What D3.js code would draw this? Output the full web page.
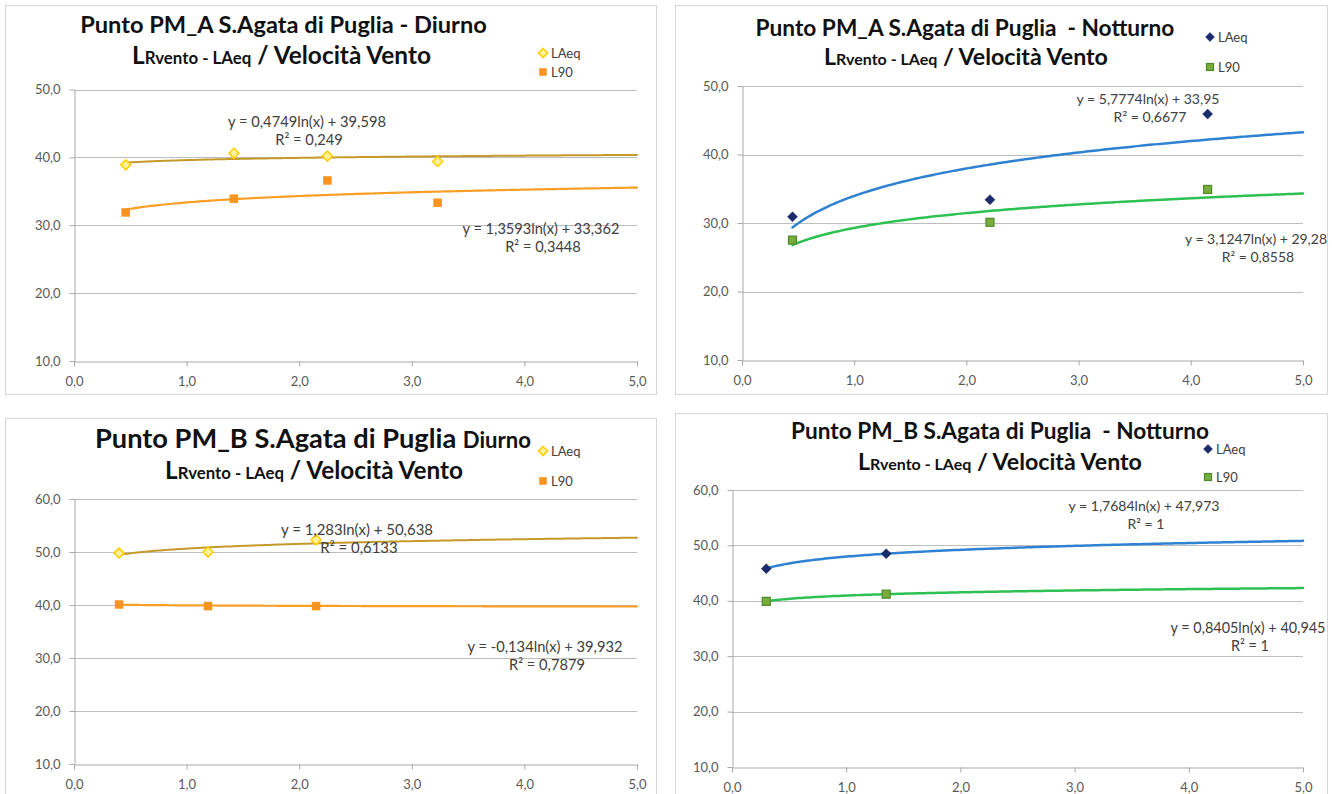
<!DOCTYPE html>
<html>
<head>
<meta charset="utf-8">
<script src="https://cdn.jsdelivr.net/npm/d3@7"></script>
<style>
  body { margin: 0; background: #fff; }
  svg { display: block; }
  text { font-family: Lato, "Open Sans", sans-serif; white-space: pre; }
</style>
</head>
<body>
<svg id="chart" width="1332" height="794"></svg>
<script>
// ---- Data: wind speed (m/s) vs. measured levels dB(A) ----
const xTickValues = [0, 1, 2, 3, 4, 5];
const yTicksTo50 = [10, 20, 30, 40, 50];
const yTicksTo60 = [10, 20, 30, 40, 50, 60];
const seriesNames = ["LAeq", "L90"];

// PM_A daytime
const pmaDayWind = [0.46, 1.42, 2.25, 3.23];
const pmaDayLAeq = [38.9, 40.6, 40.2, 39.4];
const pmaDayL90 = [31.9, 33.9, 36.6, 33.3];
const pmaDayTrend = [[0.4749, 39.598, 0.249], [1.3593, 33.362, 0.3448]];

// PM_A night-time
const pmaNightWind = [0.45, 2.21, 4.15];
const pmaNightLAeq = [30.9, 33.4, 45.9];
const pmaNightL90 = [27.5, 30.1, 34.9];
const pmaNightTrend = [[5.7774, 33.95, 0.6677], [3.1247, 29.28, 0.8558]];

// PM_B daytime
const pmbDayWind = [0.40, 1.19, 2.15];
const pmbDayLAeq = [49.8, 50.0, 52.3];
const pmbDayL90 = [40.1, 39.8, 39.8];
const pmbDayTrend = [[1.283, 50.638, 0.6133], [-0.134, 39.932, 0.7879]];

// PM_B night-time
const pmbNightWind = [0.30, 1.35];
const pmbNightLAeq = [45.8, 48.5];
const pmbNightL90 = [39.9, 41.2];
const pmbNightTrend = [[1.7684, 47.973, 1], [0.8405, 40.945, 1]];

// ---- Helpers ----
const svg = d3.select("#chart");
const itNum = v => String(v).replace(".", ",");
const tickFmt = d3.formatLocale({ decimal: ",", thousands: ".", grouping: [3], currency: ["", "€"] }).format(".1f");

function diamondPath(r) {
  return `M0,${-r}L${r},0L0,${r}L${-r},0Z`;
}

// scale all tspans of a text so that its total advance equals the wanted width
function fitWidth(textSel, width) {
  const w = textSel.node().getComputedTextLength();
  const k = width / w;
  textSel.selectAll("tspan").each(function () {
    const fs = +this.getAttribute("font-size");
    this.setAttribute("font-size", (fs * k).toFixed(2));
  });
}

const styles = {
  day: {
    laeq: { shape: "diamond", fill: "#FFF0A0", stroke: "#FFD000", sw: 1.6, r: 5 },
    l90: { shape: "square", fill: "#F7941E", stroke: "#F7941E", sw: 0.5, s: 8 },
    trendA: { color: "#C49A2C", width: 2 },
    trendB: { color: "#F99F25", width: 2.2 }
  },
  night: {
    laeq: { shape: "diamond", fill: "#1B2A6B", stroke: "#1B2A6B", sw: 0.5, r: 5 },
    l90: { shape: "square", fill: "#78AC3C", stroke: "#4E8A2A", sw: 1.2, s: 8 },
    trendA: { color: "#2F82D2", width: 2.5 },
    trendB: { color: "#2EC052", width: 2.5 }
  }
};

function drawPanel(cfg) {
  const g = svg.append("g");
  const st = styles[cfg.kind];

  g.append("rect")
    .attr("x", cfg.frame[0] + 0.5).attr("y", cfg.frame[1] + 0.5)
    .attr("width", cfg.frame[2] - cfg.frame[0]).attr("height", cfg.frame[3] - cfg.frame[1])
    .attr("fill", "#fff").attr("stroke", "#D6D6D6").attr("stroke-width", 1);

  const x = d3.scaleLinear().domain([0, 5]).range([cfg.x0, cfg.x1]);
  const y = d3.scaleLinear().domain([10, d3.max(cfg.yTicks)]).range([cfg.yBottom, cfg.yTop]);

  // horizontal gridlines
  g.append("g").selectAll("line")
    .data(cfg.yTicks.filter(t => t > 10))
    .join("line")
    .attr("x1", cfg.x0).attr("x2", cfg.x1)
    .attr("y1", d => Math.round(y(d)) + 0.5).attr("y2", d => Math.round(y(d)) + 0.5)
    .attr("stroke", "#BDBDBD").attr("stroke-width", 1);

  // axes
  const yAxis = d3.axisLeft(y).tickValues(cfg.yTicks).tickFormat(tickFmt)
    .tickSize(5).tickSizeOuter(0).tickPadding(9);
  const xAxis = d3.axisBottom(x).tickValues(xTickValues).tickFormat(tickFmt)
    .tickSize(5).tickSizeOuter(0).tickPadding(10);

  const ya = g.append("g").attr("transform", `translate(${Math.round(cfg.x0) + 0.5},0)`).call(yAxis);
  const xa = g.append("g").attr("transform", `translate(0,${Math.round(cfg.yBottom) + 0.5})`).call(xAxis);
  [ya, xa].forEach(a => {
    a.select(".domain").attr("stroke", "#A8A8A8");
    a.selectAll(".tick line").attr("stroke", "#A8A8A8");
    a.selectAll(".tick text").attr("fill", "#595959").attr("font-size", 13)
      .attr("font-family", "Lato, 'Open Sans', sans-serif");
  });

  // logarithmic trend lines y = a ln(x) + b, from the first measured speed to the end of the axis
  const trendStyles = [st.trendA, st.trendB];
  cfg.trend.forEach((t, i) => {
    const xs = d3.range(0, 201).map(k => d3.min(cfg.wind) + (5 - d3.min(cfg.wind)) * k / 200);
    const line = d3.line().x(v => x(v)).y(v => y(t[0] * Math.log(v) + t[1])).curve(d3.curveLinear);
    g.append("path").datum(xs).attr("d", line)
      .attr("fill", "none").attr("stroke", trendStyles[i].color)
      .attr("stroke-width", trendStyles[i].width).attr("stroke-linecap", "round");
  });

  // markers
  const drawMarker = (sel, m) => {
    if (m.shape === "diamond") {
      sel.append("path").attr("d", diamondPath(m.r));
    } else {
      sel.append("rect").attr("x", -m.s / 2).attr("y", -m.s / 2).attr("width", m.s).attr("height", m.s);
    }
    sel.selectAll("path,rect").attr("fill", m.fill).attr("stroke", m.stroke).attr("stroke-width", m.sw);
  };
  const sets = [[cfg.laeq, st.laeq], [cfg.l90, st.l90]];
  sets.forEach(([vals, m]) => {
    g.append("g").selectAll("g")
      .data(vals.map((v, i) => [cfg.wind[i], v]))
      .join("g")
      .attr("transform", d => `translate(${x(d[0])},${y(d[1])})`)
      .each(function () { drawMarker(d3.select(this), m); });
  });

  // legend
  [st.laeq, st.l90].forEach((m, i) => {
    const p = cfg.legend[i];
    const lg = g.append("g").attr("transform", `translate(${p[0]},${p[1]})`);
    drawMarker(lg, m.shape === "diamond" ? Object.assign({}, m, { r: 4.5 }) : Object.assign({}, m, { s: 7 }));
    lg.append("text").attr("x", 8).attr("y", 4.5).attr("font-size", 13).attr("fill", "#404040")
      .text(seriesNames[i]);
  });

  // trend equations
  cfg.trend.forEach((t, i) => {
    const p = cfg.eq[i];
    const eq = `y = ${itNum(t[0])}ln(x) + ${itNum(t[1])}`;
    const tx = g.append("text").attr("x", p[0]).attr("y", p[1]).attr("text-anchor", "middle")
      .attr("fill", "#404040");
    tx.append("tspan").attr("font-size", 13).text(eq);
    fitWidth(tx, p[2]);
    const fs = tx.select("tspan").attr("font-size");
    g.append("text").attr("x", p[0] + 2).attr("y", p[1] + 17.5).attr("text-anchor", "middle")
      .attr("fill", "#404040").attr("font-size", fs).text(`R² = ${itNum(t[2])}`);
  });

  // titles
  const t1 = g.append("text").attr("x", cfg.title1[0]).attr("y", cfg.title1[1])
    .attr("text-anchor", "middle").attr("font-weight", "bold").attr("fill", "#111");
  cfg.title1Parts.forEach(pt => t1.append("tspan").attr("font-size", pt[1]).text(pt[0]));
  fitWidth(t1, cfg.title1[2]);

  const t2 = g.append("text").attr("x", cfg.title2[0]).attr("y", cfg.title2[1])
    .attr("text-anchor", "middle").attr("font-weight", "bold").attr("fill", "#111");
  [["L", 21], ["Rvento - LAeq", 14.5], [" / Velocità Vento", 21]]
    .forEach(pt => t2.append("tspan").attr("font-size", pt[1]).text(pt[0]));
  fitWidth(t2, cfg.title2[2]);
}

drawPanel({
  kind: "day", frame: [5, 5, 656, 394],
  x0: 74, x1: 637, yTop: 89.5, yBottom: 361, yTicks: yTicksTo50,
  wind: pmaDayWind, laeq: pmaDayLAeq, l90: pmaDayL90, trend: pmaDayTrend,
  title1: [283.5, 33, 407], title1Parts: [["Punto PM_A S.Agata di Puglia - Diurno", 21]],
  title2: [281.5, 64, 299],
  legend: [[543, 53], [543, 72]],
  eq: [[307, 127, 158], [541, 234, 157]]
});

drawPanel({
  kind: "night", frame: [675, 5, 1327, 394],
  x0: 742, x1: 1303, yTop: 86, yBottom: 360, yTicks: yTicksTo50,
  wind: pmaNightWind, laeq: pmaNightLAeq, l90: pmaNightL90, trend: pmaNightTrend,
  title1: [965, 36, 419], title1Parts: [["Punto PM_A S.Agata di Puglia  - Notturno", 21]],
  title2: [966, 65, 284],
  legend: [[1210, 37], [1210, 67]],
  eq: [[1148, 104, 143], [1256, 244, 142]]
});

drawPanel({
  kind: "day", frame: [5, 418, 656, 800],
  x0: 74, x1: 637, yTop: 499, yBottom: 764, yTicks: yTicksTo60,
  wind: pmbDayWind, laeq: pmbDayLAeq, l90: pmbDayL90, trend: pmbDayTrend,
  title1: [313, 448, 436], title1Parts: [["Punto PM_B S.Agata di Puglia ", 24], ["Diurno", 19.5]],
  title2: [314, 479, 298],
  legend: [[543, 451], [543, 481]],
  eq: [[357, 535, 152], [545, 652, 155]]
});

drawPanel({
  kind: "night", frame: [675, 413, 1327, 800],
  x0: 732, x1: 1303, yTop: 490, yBottom: 767, yTicks: yTicksTo60,
  wind: pmbNightWind, laeq: pmbNightLAeq, l90: pmbNightL90, trend: pmbNightTrend,
  title1: [1000, 439, 418], title1Parts: [["Punto PM_B S.Agata di Puglia  - Notturno", 21]],
  title2: [1000, 470, 284],
  legend: [[1208, 449], [1208, 477]],
  eq: [[1144, 511, 151], [1248, 633, 155]]
});
</script>
</body>
</html>
